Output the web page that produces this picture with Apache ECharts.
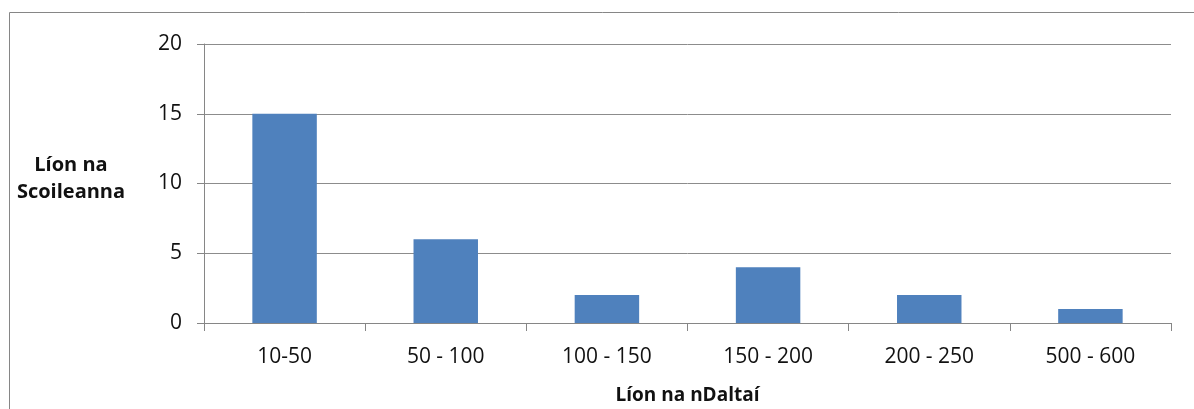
<!DOCTYPE html>
<html><head><meta charset="utf-8">
<script src="https://cdn.jsdelivr.net/npm/echarts@6/dist/echarts.min.js"></script>
<style>html,body{margin:0;padding:0;background:#fff}#c{width:1194px;height:409px}</style>
</head><body><div id="c"></div>
<script>
const categories = ['10-50','50 - 100','100 - 150','150 - 200','200 - 250','500 - 600'];
const values = [15, 6, 2, 4, 2, 1];
const yTicks = [0, 5, 10, 15, 20];
const xTitle = 'Líon na nDaltaí';
const yTitle = 'Líon na\nScoileanna';

const chart = echarts.init(document.getElementById('c'), null, {renderer:'canvas'});
const font = '"Open Sans", sans-serif';
chart.setOption({
  animation:false,
  backgroundColor:'#fff',
  grid:{left:204, right:23, top:44, bottom:86, outerBoundsMode:'none', containLabel:false},
  graphic:[
    {type:'rect', shape:{x:9.5,y:12.5,width:1200,height:420}, style:{fill:null, stroke:'#868686', lineWidth:1}},
    {type:'text', x:71, y:179, style:{text:yTitle, font:'bold 20px '+font, fill:'#111', align:'center', verticalAlign:'middle', lineHeight:27}},
  ],
  xAxis:{type:'category', data:categories,
    axisLine:{lineStyle:{color:'#868686'}},
    axisTick:{show:true, length:8, interval:0, lineStyle:{color:'#868686'}},
    axisLabel:{fontFamily:font, fontSize:21, color:'#111', margin:24, interval:0},
    name:xTitle, nameLocation:'middle', nameGap:63,
    nameTextStyle:{fontFamily:font, fontSize:19, fontWeight:'bold', color:'#111'}
  },
  yAxis:{type:'value', min:yTicks[0], max:yTicks[yTicks.length-1], interval:yTicks[1]-yTicks[0],
    axisLine:{show:true, lineStyle:{color:'#868686'}},
    axisTick:{show:true, length:7, lineStyle:{color:'#868686'}},
    axisLabel:{fontFamily:font, fontSize:21, color:'#111', margin:22},
    splitLine:{lineStyle:{color:'#8c8c8c'}}
  },
  series:[{type:'bar', data:values, barWidth:'40%', itemStyle:{color:'#4F81BD'}}]
});
</script></body></html>
